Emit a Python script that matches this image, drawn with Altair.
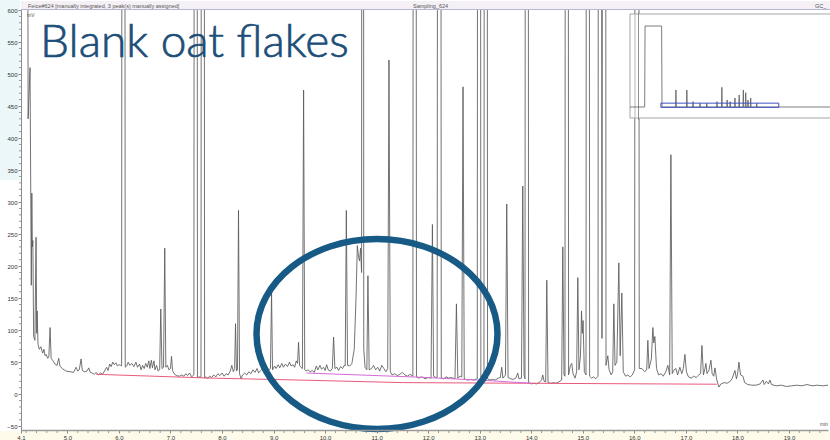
import altair as alt
import pandas as pd

# ---------------------------------------------------------------------------
# Chromatogram "Feice#624" - zoomed view 4.1 .. 19.76 min, -56 .. 600 mV
# Trace vertices are (retention time [min], signal [mV]); peaks that run far
# off the top of the view are given an apex of 5000 mV so they clip.
# ---------------------------------------------------------------------------
T_RANGE = [4.1, 19.757]
MV_RANGE = [-56, 600]

solvent_front = [
    (4.190, 3000), (4.238, 430), (4.275, 510), (4.300, 170),
    (4.310, 314), (4.320, 230), (4.330, 240), (4.345, 90), (4.370, 84),
    (4.392, 245), (4.405, 95), (4.413, 130), (4.430, 78), (4.455, 70),
    (4.485, 74), (4.520, 64), (4.545, 70), (4.567, 60), (4.590, 62),
    (4.617, 56), (4.640, 58), (4.664, 104), (4.685, 56), (4.720, 52),
    (4.760, 47), (4.800, 45), (4.831, 56), (4.855, 44), (4.900, 40),
    (4.975, 36), (5.050, 35), (5.120, 34), (5.169, 42), (5.200, 36),
    (5.230, 38), (5.266, 55), (5.290, 37), (5.330, 35), (5.380, 36),
    (5.414, 41), (5.445, 34),
]

early_trace = [
    (5.48, 33), (5.52, 31), (5.56, 34), (5.60, 30), (5.64, 33), (5.68, 31),
    (5.72, 36), (5.76, 42), (5.79, 37), (5.82, 47), (5.85, 43), (5.88, 50),
    (5.91, 46), (5.94, 49), (5.97, 44), (6.00, 46), (6.03, 45), (6.052, 44),
    (6.087, 5000), (6.122, 42), (6.15, 44), (6.18, 50), (6.21, 45), (6.25, 48),
    (6.29, 43), (6.33, 50), (6.36, 42), (6.40, 47), (6.43, 38), (6.46, 45),
    (6.49, 40), (6.52, 48), (6.55, 42), (6.58, 52), (6.60, 40), (6.63, 53),
    (6.65, 41), (6.68, 52), (6.70, 38), (6.73, 45), (6.76, 36), (6.79, 38),
    (6.812, 133), (6.835, 40), (6.865, 42), (6.889, 228), (6.91, 42),
    (6.94, 45), (6.97, 38), (7.00, 40), (7.02, 59), (7.04, 37), (7.08, 31),
    (7.12, 29), (7.17, 28), (7.22, 30), (7.26, 28), (7.30, 32), (7.33, 29),
    (7.37, 33), (7.41, 27), (7.454, 30), (7.489, 5000), (7.524, 26),
    (7.56, 27), (7.592, 26), (7.627, 5000), (7.662, 25), (7.69, 27),
    (7.72, 24), (7.76, 28), (7.80, 26), (7.84, 30), (7.88, 27), (7.92, 32),
    (7.96, 29), (8.00, 33), (8.04, 28), (8.08, 32), (8.12, 30), (8.16, 36),
    (8.19, 45), (8.22, 35), (8.245, 40), (8.262, 110), (8.28, 36), (8.30, 38),
    (8.32, 287), (8.34, 32), (8.37, 24), (8.40, 30), (8.44, 33), (8.48, 30),
    (8.52, 35), (8.56, 32), (8.60, 38), (8.64, 34), (8.68, 40), (8.71, 33),
    (8.75, 37), (8.79, 40), (8.83, 36), (8.87, 42), (8.91, 38), (8.94, 40),
    (8.961, 161), (8.98, 38), (9.02, 44), (9.05, 40), (9.09, 46), (9.12, 41),
    (9.16, 48), (9.19, 42), (9.23, 47), (9.27, 43), (9.31, 50), (9.34, 44),
    (9.38, 46), (9.41, 42), (9.44, 52), (9.465, 48), (9.485, 81), (9.505, 45),
    (9.53, 42), (9.56, 40), (9.583, 475), (9.605, 38),
]

mid_trace = [
    (9.63, 36), (9.67, 38), (9.71, 35), (9.75, 37), (9.79, 34), (9.83, 44),
    (9.86, 38), (9.90, 45), (9.93, 39), (9.97, 42), (10.00, 37), (10.03, 46),
    (10.06, 38), (10.10, 36), (10.14, 40), (10.165, 89), (10.19, 40),
    (10.23, 42), (10.26, 37), (10.30, 43), (10.34, 40), (10.37, 45),
    (10.39, 44), (10.412, 287), (10.435, 45), (10.48, 44), (10.52, 48),
    (10.565, 70), (10.60, 150), (10.625, 232), (10.65, 214), (10.668, 208),
    (10.688, 228), (10.708, 190), (10.728, 5000), (10.75, 70), (10.775, 42),
    (10.81, 38), (10.831, 185), (10.855, 38), (10.90, 40), (10.94, 45),
    (10.98, 38), (11.02, 42), (11.06, 36), (11.10, 45), (11.14, 40),
    (11.18, 35), (11.215, 40), (11.239, 522), (11.265, 35), (11.30, 30),
    (11.35, 32), (11.40, 29), (11.45, 31), (11.50, 34), (11.55, 30),
    (11.60, 28), (11.65, 31), (11.703, 28), (11.738, 5000), (11.773, 27),
    (11.82, 25), (11.88, 27), (11.94, 24), (12.00, 26), (12.055, 25),
    (12.082, 265), (12.105, 28), (12.15, 26), (12.174, 26), (12.214, 5000),
    (12.254, 25), (12.30, 24), (12.35, 27), (12.40, 25), (12.45, 26),
    (12.52, 24), (12.548, 141), (12.575, 25), (12.62, 28), (12.652, 27),
    (12.676, 480), (12.70, 24), (12.76, 22), (12.82, 23), (12.88, 22),
    (12.952, 24), (12.987, 5000), (13.022, 26), (13.05, 30), (13.082, 26),
    (13.117, 5000), (13.152, 24), (13.20, 22), (13.25, 23), (13.30, 22),
    (13.36, 25), (13.40, 26), (13.427, 42),
]

late_trace = [
    (13.45, 25), (13.50, 30), (13.524, 297), (13.55, 26), (13.60, 24),
    (13.65, 23), (13.70, 25), (13.738, 33), (13.76, 24), (13.81, 25),
    (13.835, 325), (13.86, 30), (13.878, 24), (13.913, 5000), (13.948, 18),
    (14.00, 16), (14.05, 17), (14.10, 16), (14.15, 18), (14.20, 22),
    (14.223, 30), (14.25, 20), (14.28, 19), (14.301, 178), (14.325, 18),
    (14.38, 17), (14.43, 18), (14.48, 17), (14.53, 19), (14.59, 22),
    (14.612, 230), (14.635, 30), (14.654, 28), (14.689, 5000), (14.724, 30),
    (14.76, 45), (14.786, 48), (14.81, 32), (14.85, 25), (14.88, 35),
    (14.903, 182), (14.925, 38), (14.955, 60), (14.975, 130), (14.99, 95),
    (15.005, 115), (15.03, 35), (15.062, 30), (15.097, 5000), (15.132, 28),
    (15.17, 25), (15.21, 27), (15.25, 24), (15.295, 28), (15.33, 5000),
    (15.372, 87), (15.417, 5000), (15.45, 45), (15.485, 60), (15.51, 38),
    (15.55, 30), (15.58, 35), (15.602, 141), (15.625, 45), (15.66, 50),
    (15.699, 205), (15.725, 60), (15.757, 158), (15.785, 35), (15.83, 28),
    (15.87, 30), (15.92, 27), (15.96, 30), (16.005, 38), (16.05, 5000),
    (16.095, 40),
]

tail_trace = [
    (16.146, 40), (16.20, 35), (16.24, 38), (16.262, 84), (16.285, 40),
    (16.33, 55), (16.359, 104), (16.378, 80), (16.398, 90), (16.43, 40),
    (16.47, 30), (16.52, 32), (16.56, 28), (16.61, 35), (16.65, 45),
    (16.685, 30), (16.709, 374), (16.735, 32), (16.77, 38), (16.806, 40),
    (16.84, 30), (16.883, 42), (16.92, 32), (16.95, 40), (16.981, 62),
    (17.01, 35), (17.05, 27), (17.10, 25), (17.15, 28), (17.20, 26),
    (17.25, 30), (17.285, 32), (17.311, 76), (17.34, 30), (17.37, 40),
    (17.388, 48), (17.41, 32), (17.45, 38), (17.485, 53), (17.51, 32),
    (17.54, 28), (17.563, 41), (17.60, 22), (17.641, 11), (17.68, 16),
    (17.74, 18), (17.80, 17), (17.86, 20), (17.90, 25), (17.951, 37),
    (17.98, 24), (18.00, 30), (18.029, 50), (18.06, 30), (18.107, 28),
    (18.14, 18), (18.20, 15), (18.28, 14), (18.36, 14), (18.44, 16),
    (18.495, 22), (18.52, 15), (18.56, 20), (18.60, 16), (18.631, 22),
    (18.66, 15), (18.75, 13), (18.85, 14), (18.95, 12), (19.05, 13),
    (19.15, 14), (19.25, 13), (19.35, 15), (19.45, 13), (19.55, 14),
    (19.65, 13), (19.757, 14),
]

# Integration baselines drawn by the data system
red_baseline = [(5.56, 31), (7.80, 25), (9.50, 22), (11.50, 18), (17.60, 15.5)]
magenta_baseline = [(9.64, 33), (11.83, 26.5), (13.20, 21), (14.00, 17)]

# Overview of the whole run (0 .. 26.6 min) shown in the corner window
overview_solvent = [(0.0, 0), (1.95, 0), (2.0, 12600), (4.2, 12600), (4.25, 0)]
overview_peak_t = [6.10, 7.55, 8.37, 9.30, 10.20, 11.55, 12.20, 12.90, 13.30,
                   13.94, 14.50, 15.05, 15.37, 15.67, 16.03, 16.83]
overview_peak_mv = [2650, 2650, 830, 575, 575, 830, 3060, 1090, 830,
                    1400, 1870, 2650, 2225, 1090, 1400, 575]
OVERVIEW_T = [0, 26.56]
OVERVIEW_MV = [0, 12600]

x_major = [4.1, 5, 6, 7, 8, 9, 10, 11, 12, 13, 14, 15, 16, 17, 18, 19]
y_major = [-50, 0, 50, 100, 150, 200, 250, 300, 350, 400, 450, 500, 550, 600]
x_minor = [v / 10 for v in range(42, 198, 2) if v % 10]
y_minor = [v for v in range(-50, 600, 10) if v % 50]

# ---------------------------------------------------------------------------
trace = pd.DataFrame(solvent_front + early_trace + mid_trace + late_trace + tail_trace,
                     columns=["t", "mv"])
trace["i"] = range(len(trace))
red_df = pd.DataFrame(red_baseline, columns=["t", "mv"])
mag_df = pd.DataFrame(magenta_baseline, columns=["t", "mv"])

ov_pts = list(overview_solvent)
for t, h in zip(overview_peak_t, overview_peak_mv):
    ov_pts += [(t - 0.05, 0), (t, h), (t + 0.05, 0)]
ov_pts.append((OVERVIEW_T[1], 0))
ov_df = pd.DataFrame(ov_pts, columns=["ot", "omv"])
ov_df["i"] = range(len(ov_df))
window_df = pd.DataFrame({"t0": [T_RANGE[0]], "t1": [T_RANGE[1]],
                          "v0": [MV_RANGE[0]], "v1": [MV_RANGE[1]]})

one = pd.DataFrame({"k": [0]})

xs = alt.Scale(domain=T_RANGE, nice=False, zero=False)
ys = alt.Scale(domain=MV_RANGE, nice=False, zero=False)
oxs = alt.Scale(domain=OVERVIEW_T, range=[609, 809], nice=False, zero=False)
oys = alt.Scale(domain=OVERVIEW_MV, range=[97, 16], nice=False, zero=False)

AX_FONT = "Liberation Sans"

# background strips of the data-system window
header_bg = alt.Chart(one).mark_rect(fill="#f5f0f5").encode(
    x=alt.value(0), x2=alt.value(812), y=alt.value(-9), y2=alt.value(-1))
header_line = alt.Chart(one).mark_rule(color="#b3b8cf", strokeWidth=1).encode(
    x=alt.value(0), x2=alt.value(812), y=alt.value(-0.5))
left_bg = alt.Chart(one).mark_rect(fill="#ecf7f9").encode(
    x=alt.value(-21), x2=alt.value(-1), y=alt.value(-10), y2=alt.value(170))
bottom_bg = alt.Chart(one).mark_rect(fill="#fffbeb").encode(
    x=alt.value(-21), x2=alt.value(812), y=alt.value(421), y2=alt.value(430))

trace_line = alt.Chart(trace).mark_line(
    clip=True, color="#5a5a5a", strokeWidth=0.85, strokeJoin="round"
).encode(
    x=alt.X("t:Q", scale=xs, axis=alt.Axis(
        values=x_major, format=".1f", title=None, grid=False, zindex=1,
        labelFont=AX_FONT, labelFontSize=6, labelColor="#333",
        labelPadding=1, labelFlush=False, tickSize=3, tickColor="#888",
        domainColor="#9a9a9a", domainWidth=1.5)),
    y=alt.Y("mv:Q", scale=ys, axis=alt.Axis(
        values=y_major, format="d", title=None, grid=False, zindex=1,
        labelFont=AX_FONT, labelFontSize=6, labelColor="#333",
        labelPadding=1, labelFlush=False, tickSize=3, tickColor="#888",
        domainColor="#8a8a8a", domainWidth=1)),
    order=alt.Order("i:Q"),
)

red_line = alt.Chart(red_df).mark_line(color="#ea5a7c", strokeWidth=1, clip=True).encode(
    x=alt.X("t:Q", scale=xs, axis=None), y=alt.Y("mv:Q", scale=ys, axis=None))
mag_line = alt.Chart(mag_df).mark_line(color="#d66ad8", strokeWidth=1, clip=True).encode(
    x=alt.X("t:Q", scale=xs, axis=None), y=alt.Y("mv:Q", scale=ys, axis=None))

y_minor_ticks = alt.Chart(pd.DataFrame({"mv": y_minor})).mark_rule(
    color="#999", strokeWidth=1).encode(
    x=alt.value(-2), x2=alt.value(0), y=alt.Y("mv:Q", scale=ys, axis=None))
x_minor_ticks = alt.Chart(pd.DataFrame({"t": x_minor})).mark_rule(
    color="#999", strokeWidth=1).encode(
    y=alt.value(421), y2=alt.value(423), x=alt.X("t:Q", scale=xs, axis=None))

# overview window in the upper right corner
ov_frame = alt.Chart(one).mark_rect(fill="white", stroke="#a5a5a5", strokeWidth=1).encode(
    x=alt.value(609), x2=alt.value(815), y=alt.value(4), y2=alt.value(108))
ov_axis_a = alt.Chart(one).mark_rule(color="#b5b5b5", strokeWidth=1).encode(
    x=alt.value(614), y=alt.value(4), y2=alt.value(108))
ov_axis_b = alt.Chart(one).mark_rule(color="#8f8f8f", strokeWidth=1).encode(
    x=alt.value(617.5), y=alt.value(2), y2=alt.value(110))
ov_trace = alt.Chart(ov_df).mark_line(color="#5a5a5a", strokeWidth=0.8).encode(
    x=alt.X("ot:Q", scale=oxs, axis=None), y=alt.Y("omv:Q", scale=oys, axis=None),
    order=alt.Order("i:Q"))
ov_window = alt.Chart(window_df).mark_rect(
    fillOpacity=0, stroke="#3f52c4", strokeWidth=1).encode(
    x=alt.X("t0:Q", scale=oxs, axis=None), x2="t1:Q",
    y=alt.Y("v0:Q", scale=oys, axis=None), y2="v1:Q")

# slide annotations
title_txt = alt.Chart(one).mark_text(
    align="left", baseline="alphabetic", font="Lato", fontSize=46,
    fontWeight=300, color="#1d4e78", stroke="#1d4e78", strokeWidth=0.7
).encode(x=alt.value(19), y=alt.value(47), text=alt.value("Blank oat flakes"))

ELLIPSE = "M -1 0 A 1 0.788 0 1 1 1 0 A 1 0.788 0 1 1 -1 0 Z"
ellipse = alt.Chart(one).mark_point(
    shape=ELLIPSE, size=241 * 241, filled=False, stroke="#165a85",
    strokeWidth=6.5, opacity=1).encode(x=alt.value(356), y=alt.value(324))

def small_text(s, x, y, size=5.0):
    return alt.Chart(one).mark_text(
        align="left", baseline="middle", font=AX_FONT, fontSize=size, color="#555"
    ).encode(x=alt.value(x), y=alt.value(y), text=alt.value(s))

hdr_left = small_text("Feice#624 [manually integrated, 3 peak(s) manually assigned]", 7, -4.5, 5.5)
hdr_mid = small_text("Sampling_624", 392, -4.5, 5.5)
hdr_right = small_text("GC_", 794, -4.5, 5.5)
unit_y = small_text("mV", 6, 5)
unit_x = small_text("min", 799, 414)

chart = alt.layer(
    header_bg, header_line, left_bg, bottom_bg,
    trace_line, red_line, mag_line, y_minor_ticks, x_minor_ticks,
    ov_frame, ov_axis_a, ov_axis_b, ov_trace, ov_window,
    title_txt, ellipse, hdr_left, hdr_mid, hdr_right, unit_y, unit_x,
).resolve_scale(
    x="independent", y="independent"
).properties(
    width=807, height=420,
    padding={"left": 21, "top": 10, "right": 2, "bottom": 10},
    autosize=alt.AutoSizeParams(type="none"),
    background="white",
).configure_view(stroke=None)

chart.save("out.html", embed_options={"renderer": "svg", "actions": False})
